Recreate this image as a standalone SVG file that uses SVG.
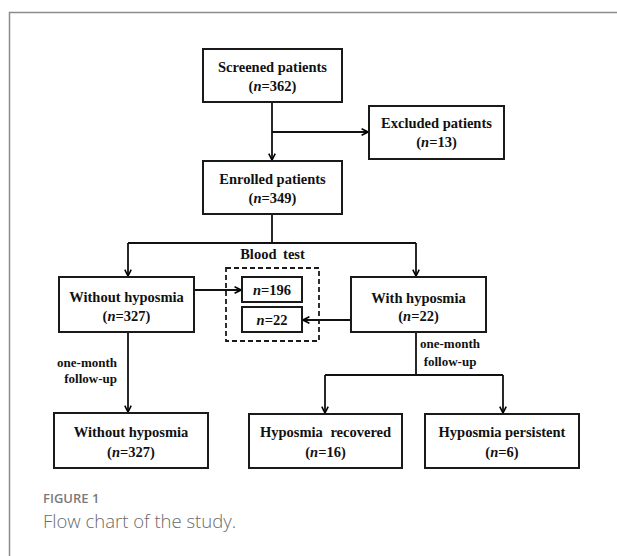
<svg xmlns="http://www.w3.org/2000/svg" width="617" height="556" viewBox="0 0 617 556">
<defs>
<marker id="arr" viewBox="0 0 10 10" refX="9" refY="5" markerWidth="8" markerHeight="8" markerUnits="userSpaceOnUse" orient="auto">
<path d="M1,1 L9,5 L1,9" fill="none" stroke="#000" stroke-width="2"/>
</marker>
<style>
.box{fill:#fff;stroke:#1a1a1a;stroke-width:2}
.t{font-family:"Liberation Serif","Times New Roman",serif;font-weight:bold;font-size:14.5px;fill:#111;text-anchor:middle}
.s{font-family:"Liberation Serif","Times New Roman",serif;font-weight:bold;font-size:13px;fill:#111}
.c{fill:none;stroke:#111;stroke-width:1.8}
.i{font-style:italic}
</style>
</defs>
<rect width="617" height="556" fill="#fff"/>
<rect x="9.5" y="12.5" width="700" height="600" fill="none" stroke="#8c8c8c" stroke-width="1.5"/>

<g id="connectors">
<path class="c" d="M272,102 V160" marker-end="url(#arr)"/>
<path class="c" d="M272,132 H368" marker-end="url(#arr)"/>
<path class="c" d="M272,214 V243 M128,243 H416"/>
<path class="c" d="M128,243 V276" marker-end="url(#arr)"/>
<path class="c" d="M416,243 V276" marker-end="url(#arr)"/>
<path class="c" d="M194,290 H241" marker-end="url(#arr)"/>
<path class="c" d="M351,320 H303" marker-end="url(#arr)"/>
<path class="c" d="M128,332 V412" marker-end="url(#arr)"/>
<path class="c" d="M416,332 V375 M325,375 H503"/>
<path class="c" d="M325,375 V413" marker-end="url(#arr)"/>
<path class="c" d="M503,375 V413" marker-end="url(#arr)"/>
</g>

<g id="screened">
<rect class="box" x="203" y="49" width="139" height="53"/>
<text class="t" x="272.5" y="72">Screened patients</text>
<text class="t" x="272.5" y="91">(<tspan class="i">n</tspan>=362)</text>
</g>
<g id="excluded">
<rect class="box" x="369" y="106" width="135" height="53"/>
<text class="t" x="436.5" y="128">Excluded patients</text>
<text class="t" x="436.5" y="147">(<tspan class="i">n</tspan>=13)</text>
</g>
<g id="enrolled">
<rect class="box" x="203" y="161" width="139" height="53"/>
<text class="t" x="272.5" y="184">Enrolled patients</text>
<text class="t" x="272.5" y="203">(<tspan class="i">n</tspan>=349)</text>
</g>
<g id="without1">
<rect class="box" x="59" y="277" width="135" height="55"/>
<text class="t" x="126.5" y="302">Without hyposmia</text>
<text class="t" x="126.5" y="321">(<tspan class="i">n</tspan>=327)</text>
</g>
<g id="with">
<rect class="box" x="351" y="277" width="135" height="55"/>
<text class="t" x="418.5" y="303">With hyposmia</text>
<text class="t" x="418.5" y="321">(<tspan class="i">n</tspan>=22)</text>
</g>
<g id="bloodtest">
<rect x="226" y="268" width="93" height="73" fill="none" stroke="#1a1a1a" stroke-width="1.8" stroke-dasharray="5,3"/>
<text class="t" x="272.5" y="259" font-size="13.5" word-spacing="3">Blood test</text>
</g>
<g id="n196">
<rect class="box" x="242" y="277" width="60" height="25"/>
<text class="t" x="272" y="295"><tspan class="i">n</tspan>=196</text>
</g>
<g id="n22">
<rect class="box" x="242" y="307" width="60" height="25"/>
<text class="t" x="272" y="325"><tspan class="i">n</tspan>=22</text>
</g>
<g id="labels">
<text class="s" x="117" y="367" text-anchor="end">one-month</text>
<text class="s" x="117" y="383" text-anchor="end">follow-up</text>
<text class="s" x="450" y="348" text-anchor="middle">one-month</text>
<text class="s" x="450" y="366" text-anchor="middle">follow-up</text>
</g>
<g id="without2">
<rect class="box" x="54" y="413" width="154" height="55"/>
<text class="t" x="131" y="437">Without hyposmia</text>
<text class="t" x="131" y="457">(<tspan class="i">n</tspan>=327)</text>
</g>
<g id="recovered">
<rect class="box" x="249" y="414" width="153" height="54"/>
<text class="t" x="325.5" y="437" word-spacing="4">Hyposmia recovered</text>
<text class="t" x="325.5" y="457">(<tspan class="i">n</tspan>=16)</text>
</g>
<g id="persistent">
<rect class="box" x="425" y="414" width="154" height="54"/>
<text class="t" x="502" y="437">Hyposmia persistent</text>
<text class="t" x="502" y="457">(<tspan class="i">n</tspan>=6)</text>
</g>
<g id="caption">
<text x="43" y="503" font-family="'Open Sans',sans-serif" font-weight="600" font-size="13" fill="#7a7a7a">FIGURE 1</text>
<text x="43" y="528" font-family="'Open Sans',sans-serif" font-weight="300" font-size="18.5" fill="#6a6a6a">Flow chart of the study.</text>
</g>
</svg>
